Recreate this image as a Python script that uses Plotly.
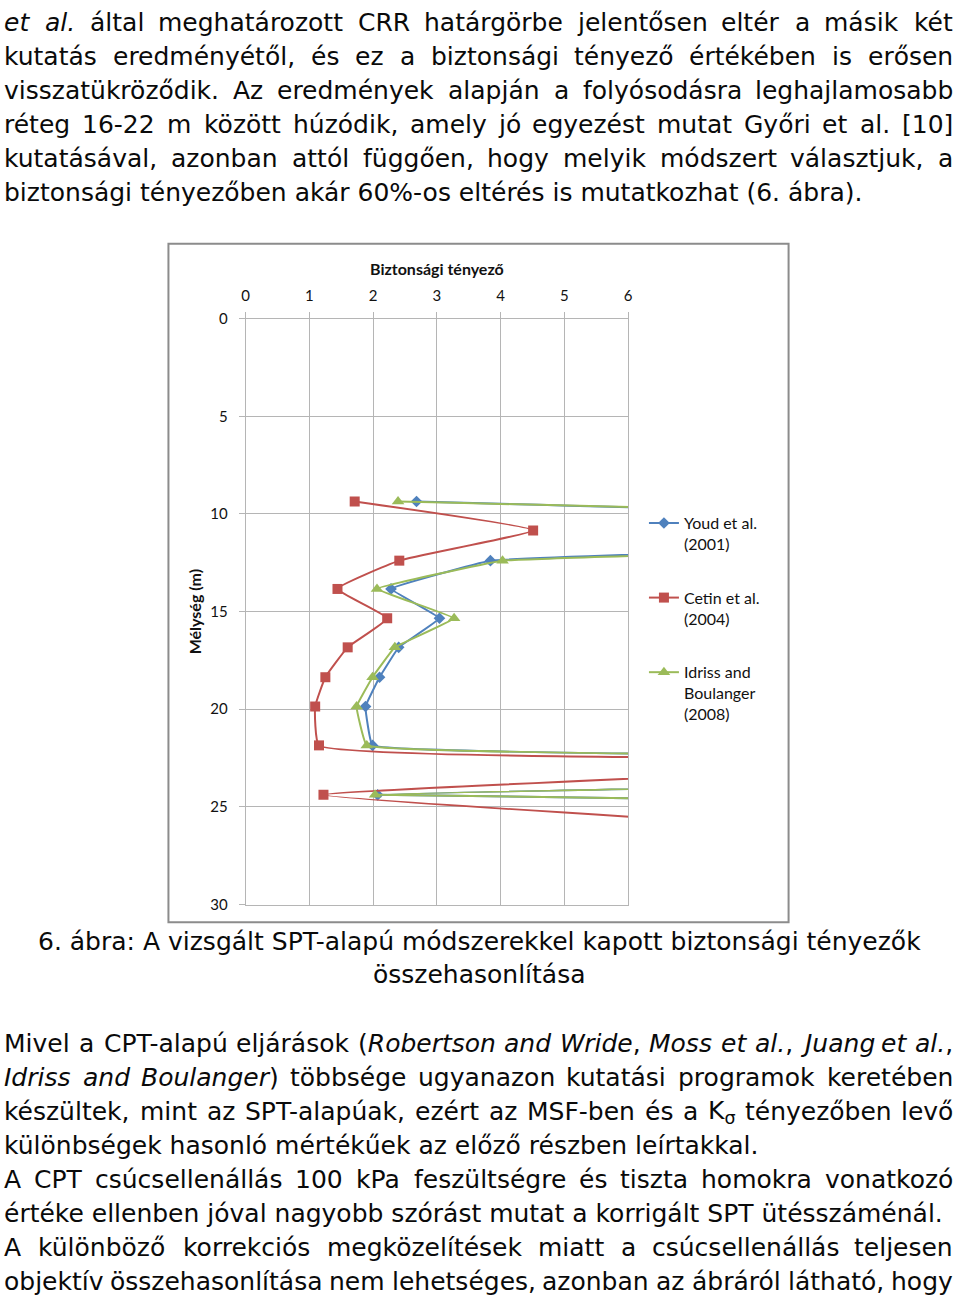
import re
import plotly.graph_objects as go

W, H = 960, 1309

# ---------------- chart data ----------------
depth_m = [9.36, 10.84, 12.39, 13.84, 15.34, 16.83, 18.36, 19.86, 21.85, 22.6, 24.38, 25.9]
fs_youd = [2.68, 18.0, 3.84, 2.28, 3.04, 2.40, 2.10, 1.88, 1.99, 30.0, 2.07, 37.0]
fs_cetin = [1.71, 4.51, 2.41, 1.44, 2.22, 1.60, 1.25, 1.09, 1.15, 12.0, 1.22, 8.0]
fs_idriss = [2.39, 20.0, 4.03, 2.06, 3.27, 2.34, 1.99, 1.74, 1.90, 30.0, 2.03, 37.0]
series_names = ["Youd et al.<br>(2001)", "Cetin et al.<br>(2004)", "Idriss and<br>Boulanger<br>(2008)"]
x_ticks = [0, 1, 2, 3, 4, 5, 6]
y_ticks = [0, 5, 10, 15, 20, 25, 30]
x_title = "Biztonsági tényező"
y_title = "Mélység (m)"

# ---------------- page text ----------------
top_lines = [
    ("justify", "<i>et</i> <i>al.</i> által meghatározott CRR határgörbe jelentősen eltér a másik két"),
    ("justify", "kutatás eredményétől, és ez a biztonsági tényező értékében is erősen"),
    ("justify", "visszatükröződik. Az eredmények alapján a folyósodásra leghajlamosabb"),
    ("justify", "réteg 16-22 m között húzódik, amely jó egyezést mutat Győri et al. [10]"),
    ("justify", "kutatásával, azonban attól függően, hogy melyik módszert választjuk, a"),
    ("left", "biztonsági tényezőben akár 60%-os eltérés is mutatkozhat (6. ábra)."),
]
caption_lines = [
    ("center", "6. ábra: A vizsgált SPT-alapú módszerekkel kapott biztonsági tényezők"),
    ("center", "összehasonlítása"),
]
bottom_lines = [
    ("justify", "Mivel a CPT-alapú eljárások (<i>Robertson</i> <i>and</i> <i>Wride</i>, <i>Moss</i> <i>et</i> <i>al.</i>, <i>Juang</i> <i>et</i> <i>al.</i>,"),
    ("justify", "<i>Idriss</i> <i>and</i> <i>Boulanger</i>) többsége ugyanazon kutatási programok keretében"),
    ("justify", "készültek, mint az SPT-alapúak, ezért az MSF-ben és a K<sub>σ</sub> tényezőben levő"),
    ("left", "különbségek hasonló mértékűek az előző részben leírtakkal."),
    ("justify", "A CPT csúcsellenállás 100 kPa feszültségre és tiszta homokra vonatkozó"),
    ("left", "értéke ellenben jóval nagyobb szórást mutat a korrigált SPT ütésszáménál."),
    ("justify", "A különböző korrekciós megközelítések miatt a csúcsellenállás teljesen"),
    ("justify", "objektív összehasonlítása nem lehetséges, azonban az ábráról látható, hogy"),
]

# ---------------- layout constants ----------------
TOP_Y0, PITCH = 13.0, 34.45
CAP_Y = [944.0, 978.0]
BOT_Y0 = 1048.0
FS = 25
LEFT, RIGHT = 0.5, 958.0
TXT_FONT = "DejaVu Sans"
TXT_COLOR = "#0a0a0a"

# DejaVu Sans advance widths (units per em = 2048)
ADV = {' ': 651, '!': 821, '%': 1946, '(': 799, ')': 799, ',': 651, '-': 739, '.': 651, ':': 690,
       '[': 799, ']': 799, 'σ': 1300}
for c in '0123456789':
    ADV[c] = 1303
ADV.update(dict(zip("ABCDEFGHIJKLMNOPQRSTUVWXYZ",
                    [1401, 1405, 1430, 1577, 1294, 1178, 1587, 1540, 604, 604, 1343, 1141, 1767, 1532,
                     1612, 1235, 1612, 1423, 1300, 1251, 1499, 1401, 2025, 1403, 1251, 1403])))
ADV.update(dict(zip("abcdefghijklmnopqrstuvwxyz",
                    [1255, 1300, 1126, 1300, 1260, 721, 1300, 1298, 569, 569, 1186, 569, 1995, 1298,
                     1253, 1300, 1300, 842, 1067, 803, 1298, 1212, 1675, 1212, 1212, 1075])))
BASE = str.maketrans("áéíóöőúüűÁÉÍÓÖŐÚÜŰ", "aeiooouuuAEIOOOUUU")


def text_px(s):
    total, scale = 0.0, 1.0
    for part in re.split(r'(<[^>]+>)', s):
        if part.startswith('<'):
            if part == '<sub>':
                scale = 0.7
            elif part == '</sub>':
                scale = 1.0
            continue
        for ch in part.translate(BASE):
            total += ADV.get(ch, 1200) * scale
    return total * FS / 2048.0


fig = go.Figure()

# ---------------- chart traces ----------------
colors = ["#4F81BD", "#C0504D", "#9BBB59"]
symbols = ["diamond", "square", "triangle-up"]
sizes = [9, 10, 11]
smooth = [0.2, 0.35, 0.2]
for vals, name, col, sym, sz, sm, grp in zip([fs_youd, fs_cetin, fs_idriss], series_names, colors,
                                            symbols, sizes, smooth, ["a", "b", "c"]):
    fig.add_trace(go.Scatter(
        x=vals, y=depth_m, mode="lines+markers", name=name, legendgroup=grp,
        line=dict(color=col, width=2, shape="spline", smoothing=sm, simplify=False),
        marker=dict(symbol=sym, size=sz, color=col, line=dict(width=0)),
    ))

GRID = "#B5B5B5"
axis_font = dict(family="Lato", size=15, color="#111")
fig.update_xaxes(
    range=[0, 6], side="top", tickvals=x_ticks, domain=[244 / W, 630 / W],
    showgrid=True, gridcolor=GRID, gridwidth=1, zeroline=False,
    showline=True, linecolor=GRID, linewidth=1, mirror=True,
    ticks="outside", ticklen=6, tickcolor=GRID, tickfont=axis_font, ticklabelstandoff=5,
    title=dict(text=x_title, font=dict(family="Lato", size=16, color="#111", weight=700), standoff=6),
)
fig.update_yaxes(
    range=[30, 0], tickvals=y_ticks, domain=[1 - 907 / H, 1 - 313 / H],
    showgrid=True, gridcolor=GRID, gridwidth=1, zeroline=False,
    showline=True, linecolor=GRID, linewidth=1, mirror=True,
    ticks="outside", ticklen=6, tickcolor=GRID, tickfont=axis_font, ticklabelstandoff=8,
    title=dict(text=y_title, font=dict(family="Lato", size=16, color="#111", weight=700), standoff=4),
)

# chart frame
fig.add_shape(type="rect", xref="paper", yref="paper",
              x0=166 / W, x1=792 / W, y0=1 - 925 / H, y1=1 - 237 / H,
              line=dict(color="#8C8C8C", width=2), fillcolor="rgba(0,0,0,0)", layer="below")


# ---------------- page text ----------------
def add_line(text, yc, align):
    common = dict(xref="paper", yref="paper", y=1 - yc / H, yanchor="middle", showarrow=False,
                  borderpad=0, borderwidth=0,
                  font=dict(family=TXT_FONT, size=FS, color=TXT_COLOR))
    if align == "center":
        fig.add_annotation(x=480 / W, xanchor="center", text=text, **common)
        return
    if align == "left":
        fig.add_annotation(x=LEFT / W, xanchor="left", text=text, **common)
        return
    words = text.split(" ")
    widths = [text_px(w) for w in words]
    gap = (RIGHT - LEFT - sum(widths)) / (len(words) - 1)
    x = LEFT
    for i, (wd_text, wd) in enumerate(zip(words, widths)):
        if i == 0:
            xa, xp = "left", x
        elif i == len(words) - 1:
            xa, xp = "right", RIGHT
        else:
            xa, xp = "center", x + wd / 2
        fig.add_annotation(x=xp / W, xanchor=xa, text=wd_text, **common)
        x += wd + gap


for i, (al, t) in enumerate(top_lines):
    add_line(t, TOP_Y0 + i * PITCH, al)
for (al, t), yc in zip(caption_lines, CAP_Y):
    add_line(t, yc, al)
for i, (al, t) in enumerate(bottom_lines):
    add_line(t, BOT_Y0 + i * PITCH, al)

fig.update_layout(
    width=W, height=H, margin=dict(l=0, r=0, t=0, b=0),
    paper_bgcolor="white", plot_bgcolor="white",
    showlegend=True,
    legend=dict(x=646 / W, y=1 - 503 / H, xanchor="left", yanchor="top",
                font=dict(family="Lato", size=16, color="#111"), valign="top",
                tracegroupgap=30, bgcolor="rgba(0,0,0,0)", itemwidth=30),
)

fig.write_html("out.html")
